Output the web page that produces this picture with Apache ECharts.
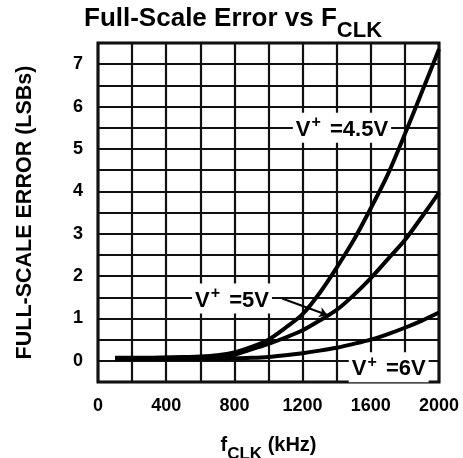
<!DOCTYPE html>
<html>
<head>
<meta charset="utf-8">
<script src="https://cdn.jsdelivr.net/npm/echarts@6/dist/echarts.min.js"></script>
<style>
    html, body { margin: 0; padding: 0; background: #fff; }
    #chart { width: 463px; height: 458px; }
</style>
</head>
<body>
<div id="chart"></div>
<script>
// clock frequency (kHz) sample points
const freq = [100, 200, 300, 400, 500, 600, 700, 800, 900, 1000,
              1100, 1200, 1300, 1400, 1500, 1600, 1700, 1800, 1900, 2000];
// full-scale error (LSBs) for each supply
const err45 = [0.07, 0.07, 0.07, 0.08, 0.09, 0.1, 0.13, 0.2, 0.33, 0.5,
               0.78, 1.1, 1.6, 2.2, 2.85, 3.6, 4.4, 5.35, 6.35, 7.35];
const err5 = [0.06, 0.06, 0.06, 0.07, 0.08, 0.09, 0.11, 0.15, 0.27, 0.4,
              0.55, 0.72, 0.95, 1.2, 1.55, 1.95, 2.4, 2.85, 3.4, 3.97];
const err6 = [0.05, 0.05, 0.05, 0.05, 0.05, 0.05, 0.05, 0.06, 0.07, 0.09,
              0.13, 0.18, 0.24, 0.31, 0.4, 0.5, 0.63, 0.78, 0.95, 1.14];
const xTickLabels = [0, 400, 800, 1200, 1600, 2000];
const yTickLabels = [0, 1, 2, 3, 4, 5, 6, 7];

const FONT = 'Liberation Sans, Arial, Helvetica, sans-serif';

function pairs(ys) {
    return freq.map((f, i) => [f, ys[i]]);
}

// label style shared by the V+ annotations
const supLabel = {
    show: true,
    position: 'inside',
    backgroundColor: '#fff',
    padding: [2, 3],
    fontFamily: FONT,
    rich: {
        n: { fontSize: 22, fontWeight: 'bold', fontFamily: FONT, color: '#000', verticalAlign: 'bottom', lineHeight: 26 },
        sup: { fontSize: 16, fontWeight: 'bold', fontFamily: FONT, color: '#000', verticalAlign: 'top', lineHeight: 26, padding: [0, 3, 0, 1] }
    }
};

function note(x, y, volts) {
    return {
        coord: [x, y],
        symbolSize: 0,
        label: Object.assign({}, supLabel, { formatter: '{n|V}{sup|+}{n| =' + volts + '}' })
    };
}

function curve(name, ys, extra) {
    return Object.assign({
        name: name,
        type: 'line',
        data: pairs(ys),
        smooth: 0.3,
        showSymbol: false,
        lineStyle: { color: '#000', width: 4 },
        z: 3
    }, extra);
}

const chart = echarts.init(document.getElementById('chart'));
chart.setOption({
    animation: false,
    backgroundColor: '#fff',
    title: {
        text: '{n|Full-Scale Error vs F}{s|CLK}',
        left: 79,
        top: 1,
        textStyle: {
            rich: {
                n: { fontSize: 26, fontWeight: 'bold', fontFamily: FONT, color: '#000', verticalAlign: 'top', lineHeight: 36 },
                s: { fontSize: 22, fontWeight: 'bold', fontFamily: FONT, color: '#000', verticalAlign: 'bottom', lineHeight: 36 }
            }
        }
    },
    grid: {
        left: 98,
        right: 24,
        top: 43,
        bottom: 76,
        outerBoundsMode: 'none',
        show: true,
        borderColor: '#000',
        borderWidth: 3
    },
    xAxis: {
        type: 'value',
        min: 0,
        max: 2000,
        interval: 200,
        axisLine: { show: false },
        axisTick: { show: false },
        splitLine: { lineStyle: { color: '#111', width: 2.2 } },
        axisLabel: {
            margin: 15,
            fontSize: 18,
            fontWeight: 'bold',
            fontFamily: FONT,
            color: '#000',
            formatter: v => xTickLabels.includes(v) ? String(v) : ''
        },
        name: '{n|f}{s|CLK}{n| (kHz)}',
        nameLocation: 'middle',
        nameGap: 53,
        nameTextStyle: {
            rich: {
                n: { fontSize: 20, fontWeight: 'bold', fontFamily: FONT, color: '#000', verticalAlign: 'top', lineHeight: 28 },
                s: { fontSize: 17, fontWeight: 'bold', fontFamily: FONT, color: '#000', verticalAlign: 'bottom', lineHeight: 28 }
            }
        }
    },
    yAxis: {
        type: 'value',
        min: -0.5,
        max: 7.5,
        interval: 0.5,
        axisLine: { show: false },
        axisTick: { show: false },
        splitLine: { lineStyle: { color: '#111', width: 2.2 } },
        axisLabel: {
            margin: 15,
            fontSize: 18,
            fontWeight: 'bold',
            fontFamily: FONT,
            color: '#000',
            formatter: v => yTickLabels.includes(v) ? String(v) : ''
        },
        name: 'FULL-SCALE ERROR (LSBs)',
        nameLocation: 'middle',
        nameRotate: 90,
        nameGap: 62,
        nameTextStyle: {
            fontSize: 21.5,
            fontWeight: 'bold',
            fontFamily: FONT,
            color: '#000'
        }
    },
    series: [
        curve('V+ = 4.5V', err45, {
            markPoint: { symbol: 'rect', data: [note(1431, 5.5, '4.5V')] }
        }),
        curve('V+ = 5V', err5, {
            markPoint: { symbol: 'rect', data: [note(786, 1.47, '5V')] },
            markLine: {
                silent: true,
                symbol: ['none', 'arrow'],
                symbolSize: 8,
                label: { show: false },
                lineStyle: { color: '#000', width: 2, type: 'solid' },
                data: [[{ coord: [1080, 1.47] }, { coord: [1345, 1.08] }]]
            }
        }),
        curve('V+ = 6V', err6, {
            markPoint: { symbol: 'rect', data: [note(1705, -0.15, '6V')] }
        })
    ]
});
</script>
</body>
</html>
